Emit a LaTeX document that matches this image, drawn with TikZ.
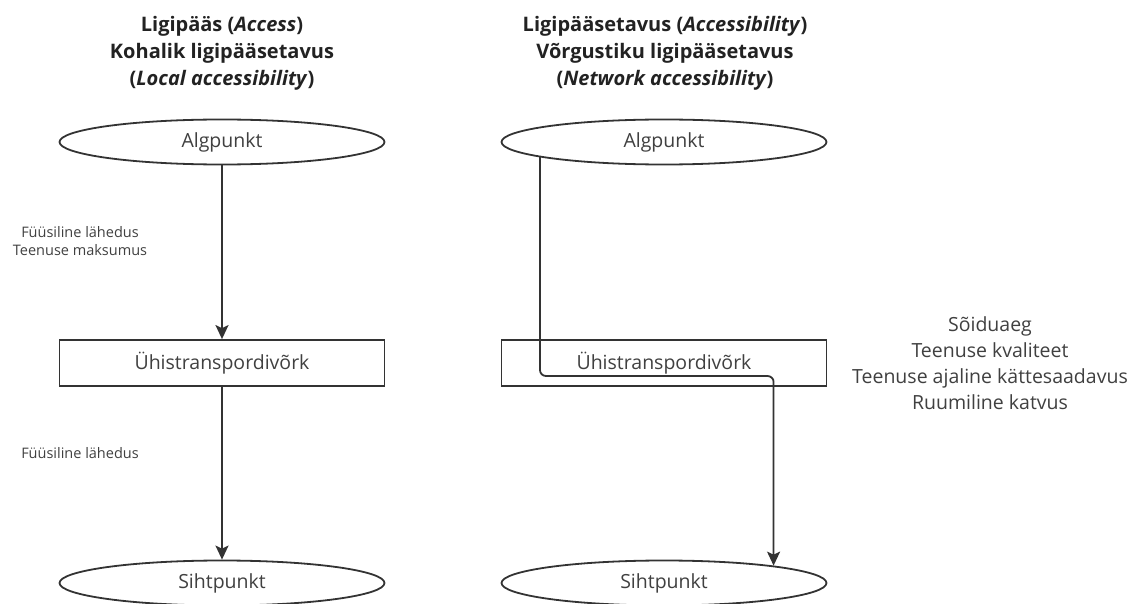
\documentclass[tikz,border=0pt]{standalone}
\usepackage{fontspec}
\setmainfont{Open Sans}
\usetikzlibrary{shapes.geometric, arrows.meta, positioning}

\definecolor{linegray}{HTML}{333333}
\definecolor{textgray}{HTML}{404040}
\definecolor{titlegray}{HTML}{222222}

\begin{document}
\begin{tikzpicture}[
    x=1pt, y=-1pt,
    >={Stealth[length=14pt, width=13pt, inset=3pt]}, % filled arrow head like the original
    place/.style={
        ellipse,
        draw=linegray,
        line width=1.8pt,
        minimum width=325pt,
        minimum height=45pt,
        inner sep=0pt,
        text=textgray,
        font=\fontsize{19.5}{26}\selectfont
    },
    netbox/.style={
        rectangle,
        draw=linegray,
        line width=1.8pt,
        minimum width=325pt,
        minimum height=46pt,
        inner sep=0pt,
        text=textgray,
        font=\fontsize{19.5}{26}\selectfont
    },
    title/.style={
        align=center,
        text=titlegray,
        font=\fontsize{20}{27}\selectfont\bfseries
    },
    note/.style={
        align=center,
        text=textgray,
        font=\fontsize{14.5}{18}\selectfont
    },
    factors/.style={
        note,
        font=\fontsize{19.5}{26}\selectfont
    },
    flow/.style={
        ->,
        draw=linegray,
        line width=1.8pt
    }
]

    \useasboundingbox (0,0) rectangle (1134,604);

    % =======================================================
    % (A) ACCESS / LOCAL ACCESSIBILITY
    % =======================================================
    \node[title] (titleA) at (222, 53) {Ligipääs (\textit{Access})\\Kohalik ligipääsetavus\\(\textit{Local accessibility})};

    % Main blocks
    \node[place] (startA) at (222, 142) {Algpunkt};
    \node[netbox] (netA) at (222, 363) {Ühistranspordivõrk};
    \node[place] (goalA) at (222, 583) {Sihtpunkt};

    % Side notes
    \node[note] (noteUpA) at (80, 241) {Füüsiline lähedus\\Teenuse maksumus};
    \node[note] (noteDownA) at (80, 453) {Füüsiline lähedus};

    % Forward paths
    \draw[flow] (startA) -- (netA);
    \draw[flow] (netA) -- (goalA);


    % =======================================================
    % (B) ACCESSIBILITY / NETWORK ACCESSIBILITY
    % =======================================================
    \node[title] (titleB) at (665, 53) {Ligipääsetavus (\textit{Accessibility})\\Võrgustiku ligipääsetavus\\(\textit{Network accessibility})};

    % Main blocks
    \node[place] (startB) at (664, 142) {Algpunkt};
    \node[netbox] (netB) at (664, 363) {Ühistranspordivõrk};
    \node[place] (goalB) at (664, 583) {Sihtpunkt};

    % Network factors
    \node[factors] (factorsB) at (990, 363) {Sõiduaeg\\Teenuse kvaliteet\\Teenuse ajaline kättesaadavus\\Ruumiline katvus};

    % Path through the network
    \coordinate (turnB) at ([yshift=-13pt]netB.center -| goalB.9);
    \draw[flow, rounded corners=6pt] (startB.187) |- (turnB) -- (goalB.9);

\end{tikzpicture}
\end{document}
